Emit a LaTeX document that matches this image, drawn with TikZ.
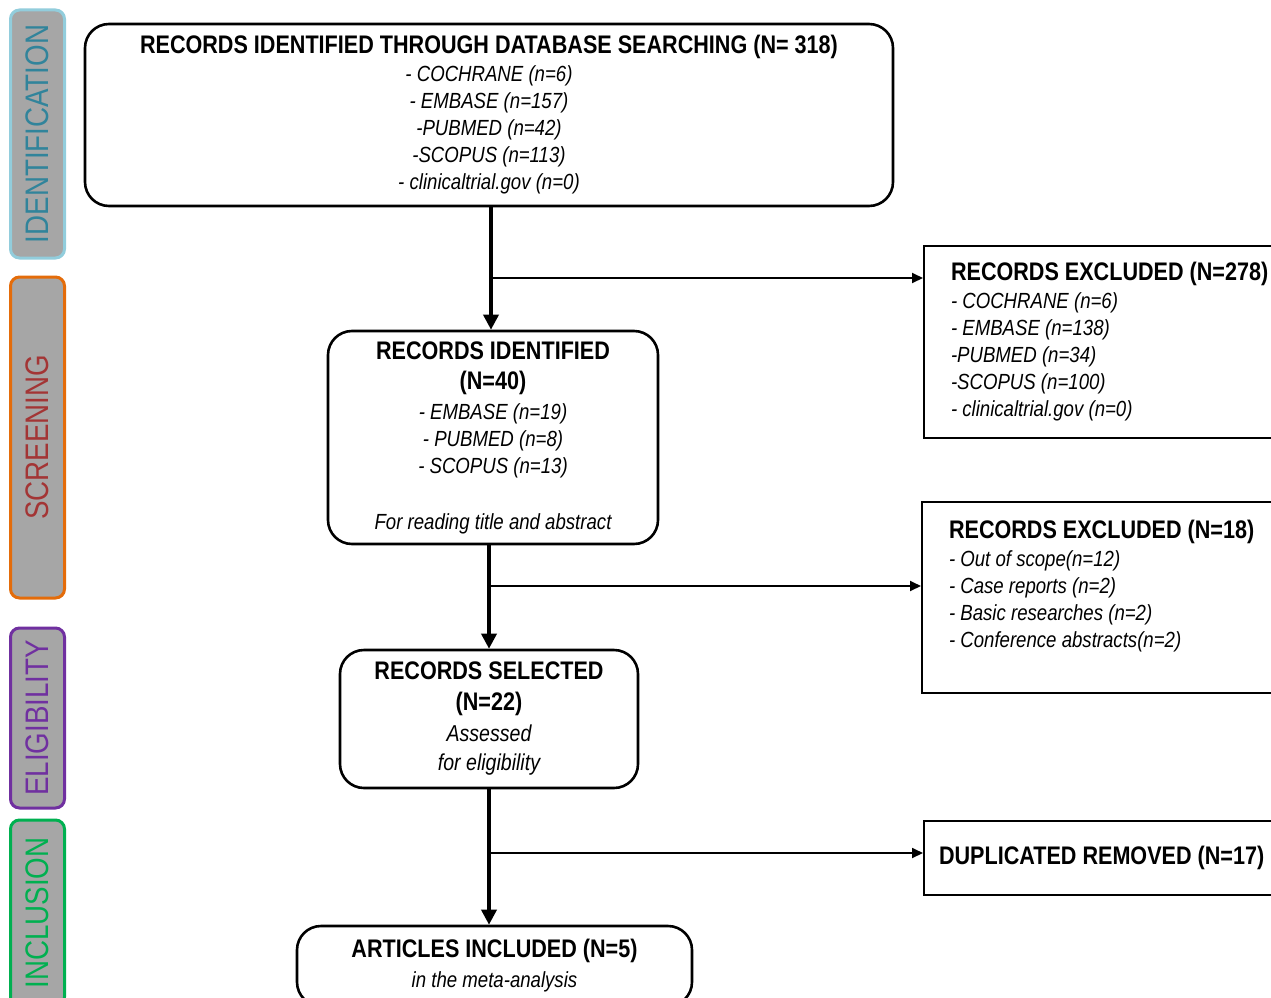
\documentclass[tikz,border=0pt]{standalone}
\usepackage{fontspec}
\setmainfont[FakeStretch=0.85]{Liberation Sans}
\usetikzlibrary{arrows.meta}
\definecolor{phasegray}{HTML}{A6A6A6}
\definecolor{idblue}{HTML}{92CDDC}
\definecolor{idtext}{HTML}{31849B}
\definecolor{scrorange}{HTML}{E46C0A}
\definecolor{scrtext}{HTML}{A33535}
\definecolor{elpurple}{HTML}{7030A0}
\definecolor{incgreen}{HTML}{00B050}
\newcommand{\boxhead}[1]{{\upshape\bfseries\fontsize{25.4}{30}\selectfont #1}}

\begin{document}
\begin{tikzpicture}[x=1pt,y=-1pt,
  phase/.style={draw, line width=3pt, fill=phasegray, rounded corners=9pt,
    rotate=90, minimum height=54pt, inner sep=0pt,
    font=\fontsize{32.6}{36}\selectfont},
  stagebox/.style={draw, line width=2.6pt, rounded corners=24pt, align=center,
    inner sep=0pt, font=\fontsize{21.9}{27}\selectfont\itshape},
  sidebox/.style={draw, line width=2pt, anchor=north west, align=flush left,
    inner xsep=27pt, inner ysep=0pt, text width=400pt,
    font=\fontsize{21.9}{27}\selectfont\itshape},
  flow/.style={line width=3.5pt, -{Triangle[width=15pt,length=15pt]}},
  branch/.style={line width=1.8pt, -{Triangle[width=10pt,length=11pt]}}]
  \useasboundingbox (0,0) rectangle (1271,998);

  % phases
  \node[phase, draw=idblue, text=idtext, minimum width=248pt] (idphase) at (37.5,134) {IDENTIFICATION};
  \node[phase, draw=scrorange, text=scrtext, minimum width=321pt] (scrphase) at (37.5,437.5) {SCREENING};
  \node[phase, draw=elpurple, text=elpurple, minimum width=180pt] (elphase) at (37.5,718) {ELIGIBILITY};
  \node[phase, draw=incgreen, text=incgreen, minimum width=186pt] (incphase) at (37.5,913) {INCLUSION};

  % main column
  \node[stagebox, minimum width=808pt, minimum height=182pt] (search) at (489,115)
    {\boxhead{RECORDS IDENTIFIED THROUGH DATABASE SEARCHING (N= 318)}\\[1pt]
     - COCHRANE (n=6)\\ - EMBASE (n=157)\\ -PUBMED (n=42)\\ -SCOPUS (n=113)\\
     - clinicaltrial.gov (n=0)};
  \node[stagebox, minimum width=330pt, minimum height=213pt] (identified) at (493,437.5)
    {\boxhead{RECORDS IDENTIFIED}\\[3pt] \boxhead{(N=40)}\\[3pt]
     - EMBASE (n=19)\\ - PUBMED (n=8)\\ - SCOPUS (n=13)\\[29pt]
     For reading title and abstract};
  \node[stagebox, minimum width=298pt, minimum height=138pt] (selected) at (489,719)
    {\boxhead{RECORDS SELECTED}\\[4pt] \boxhead{(N=22)}\\[4pt]
     {\fontsize{23}{27}\selectfont Assessed}\\[2pt] {\fontsize{23}{27}\selectfont for eligibility}};
  \node[stagebox, minimum width=395pt, minimum height=80pt] (included) at (494.5,966)
    {\boxhead{ARTICLES INCLUDED (N=5)}\\[3pt] in the meta-analysis};

  % exclusions
  \node[sidebox, minimum height=192pt] (excl1) at (923,245)
    {\boxhead{RECORDS EXCLUDED (N=278)}\\[1pt]
     - COCHRANE (n=6)\\ - EMBASE (n=138)\\ -PUBMED (n=34)\\ -SCOPUS (n=100)\\
     - clinicaltrial.gov (n=0)};
  \node[sidebox, minimum height=191pt] (excl2) at (921,501)
    {\boxhead{RECORDS EXCLUDED (N=18)}\\[1pt]
     - Out of scope(n=12)\\ - Case reports (n=2)\\ - Basic researches (n=2)\\
     - Conference abstracts(n=2)\\ \mbox{}};
  \node[sidebox, minimum height=74pt, inner xsep=15pt] (dupl) at (923,820)
    {\boxhead{DUPLICATED REMOVED (N=17)}};

  % connectors
  \coordinate (b1) at (491,278);
  \coordinate (b2) at (489,586);
  \coordinate (b3) at (489,853);
  \draw[flow] (search.south -| b1) -- (identified.north -| b1);
  \draw[flow] (identified.south -| b2) -- (selected.north -| b2);
  \draw[flow] (selected.south -| b3) -- (included.north -| b3);
  \draw[branch] (b1) -- (b1 -| excl1.west);
  \draw[branch] (b2) -- (b2 -| excl2.west);
  \draw[branch] (b3) -- (b3 -| dupl.west);
\end{tikzpicture}
\end{document}
